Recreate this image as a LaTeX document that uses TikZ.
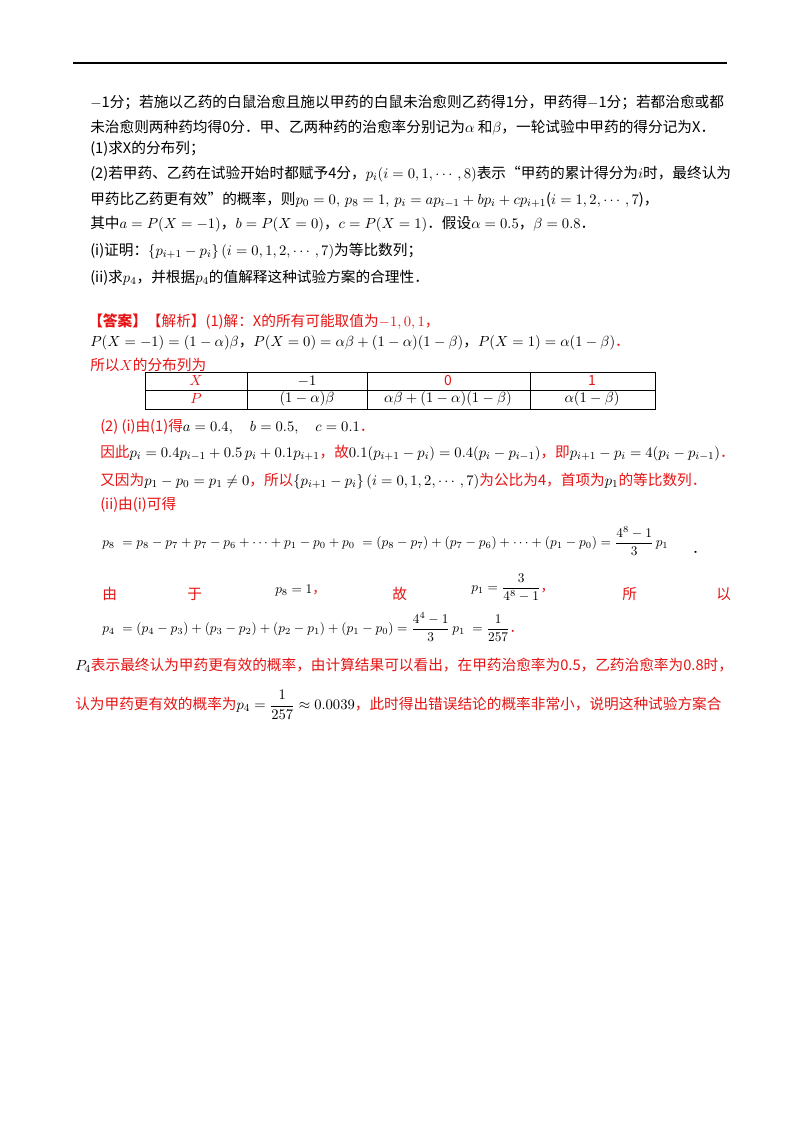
\documentclass[tikz,border=0pt]{standalone}
\usepackage{amsmath}
\usepackage{fontspec}
\setmainfont{Noto Sans CJK SC}
\definecolor{ansred}{RGB}{230,20,20}
\begin{document}
\begin{tikzpicture}[x=0.75pt,y=-0.75pt,
  t/.style={anchor=west,inner sep=0pt,font=\fontsize{11pt}{13pt}\selectfont},
  te/.style={anchor=west,inner sep=0pt,font=\fontsize{10.2pt}{12pt}\selectfont},
  r/.style={t,text=ansred},
  cell/.style={inner sep=0pt,font=\fontsize{10.5pt}{12pt}\selectfont}]
\useasboundingbox (0,0) rectangle (800,1132);
\fill[white] (0,0) rectangle (800,1132);
\draw[line width=0.8pt] (73,63) -- (727,63);
\node[t] (l1) at (90,102) {$-$1分；若施以乙药的白鼠治愈且施以甲药的白鼠未治愈则乙药得1分，甲药得$-$1分；若都治愈或都};
\node[t] (l2) at (90,128) {未治愈则两种药均得0分．甲、乙两种药的治愈率分别记为$\alpha$ 和$\beta$，一轮试验中甲药的得分记为\textit{X}．};
\node[t] (l3) at (90,149) {(1)求\textit{X}的分布列；};
\node[t] (l4) at (90,174) {(2)若甲药、乙药在试验开始时都赋予4分，$p_i(i=0,1,\cdots,8)$表示“甲药的累计得分为$i$时，最终认为};
\node[t] (l5) at (90,200) {甲药比乙药更有效”的概率，则$p_0=0,\,p_8=1,\,p_i=ap_{i-1}+bp_i+cp_{i+1}$($i=1,2,\cdots,7$)，};
\node[t] (l6) at (90,224) {其中$a=P(X=-1)$，$b=P(X=0)$，$c=P(X=1)$．假设$\alpha=0.5$，$\beta=0.8$．};
\node[t] (l7) at (90,251) {(i)证明：$\{p_{i+1}-p_i\}\,(i=0,1,2,\cdots,7)$为等比数列；};
\node[t] (l8) at (90,278) {(ii)求$p_4$，并根据$p_4$的值解释这种试验方案的合理性．};
\node[r] (a1) at (88,322) {\textbf{【答案】}【解析】(1)解：\textit{X}的所有可能取值为$-1,0,1$，};
\node[t] (a2) at (90,343) {$P(X=-1)=(1-\alpha)\beta$，$P(X=0)=\alpha\beta+(1-\alpha)(1-\beta)$，$P(X=1)=\alpha(1-\beta)$\textcolor{ansred}{．}};
\node[r] (a3) at (90,365) {所以$X$的分布列为};
\draw[line width=0.6pt] (145,372) rectangle (655,409);
\draw[line width=0.6pt] (145,390) -- (655,390) (247,372) -- (247,409) (367,372) -- (367,409) (530,372) -- (530,409);
\node[cell,text=ansred] (h1) at (196,381) {$X$};
\node[cell] (h2) at (307,381) {$-1$};
\node[cell,text=ansred] (h3) at (448,381) {0};
\node[cell,text=ansred] (h4) at (592,381) {1};
\node[cell,text=ansred] (c1) at (196,399) {$P$};
\node[cell] (c2) at (307,399) {$(1-\alpha)\beta$};
\node[cell] (c3) at (448,399) {$\alpha\beta+(1-\alpha)(1-\beta)$};
\node[cell] (c4) at (592,399) {$\alpha(1-\beta)$};
\node[r] (b1) at (100,427) {(2) (i)由(1)得\textcolor{black}{$a=0.4,\quad b=0.5,\quad c=0.1$}．};
\node[r] (b2) at (100,453) {因此\textcolor{black}{$p_i=0.4p_{i-1}+0.5\,p_i+0.1p_{i+1}$}，故\textcolor{black}{$0.1(p_{i+1}-p_i)=0.4(p_i-p_{i-1})$}，即\textcolor{black}{$p_{i+1}-p_i=4(p_i-p_{i-1})$}．};
\node[r] (b3) at (100,481) {又因为\textcolor{black}{$p_1-p_0=p_1\neq0$}，所以\textcolor{black}{$\left\{p_{i+1}-p_i\right\}(i=0,1,2,\cdots,7)$}为公比为4，首项为\textcolor{black}{$p_1$}的等比数列．};
\node[r] (b4) at (100,505) {(ii)由(i)可得};
\node[te] (e1) at (102,541) {$p_8\;=p_8-p_7+p_7-p_6+\cdots+p_1-p_0+p_0\;=(p_8-p_7)+(p_7-p_6)+\cdots+(p_1-p_0)=\dfrac{4^8-1}{3}\,p_1$};
\node[te] (d1) at (692,552) {．};
\node[r] (y1) at (102,594) {由};
\node[r] (y2) at (187,594) {于};
\node[te] (y3) at (275,590) {$p_8=1$\textcolor{ansred}{，}};
\node[r] (y4) at (392,594) {故};
\node[te] (y5) at (471,588) {$p_1=\dfrac{3}{4^8-1}$\textcolor{ansred}{，}};
\node[r] (y6) at (622,594) {所};
\node[r] (y7) at (716,594) {以};
\node[te] (e2) at (102,627) {$p_4\;=(p_4-p_3)+(p_3-p_2)+(p_2-p_1)+(p_1-p_0)=\dfrac{4^4-1}{3}\,p_1\;=\dfrac{1}{257}$\textcolor{ansred}{．}};
\node[r] (f1) at (75,665) {\textcolor{black}{$P_4$}表示最终认为甲药更有效的概率，由计算结果可以看出，在甲药治愈率为0.5，乙药治愈率为0.8时，};
\node[r] (f2) at (75,705) {认为甲药更有效的概率为\textcolor{black}{$p_4=\dfrac{1}{257}\approx0.0039$}，此时得出错误结论的概率非常小，说明这种试验方案合};
\end{tikzpicture}
\end{document}
